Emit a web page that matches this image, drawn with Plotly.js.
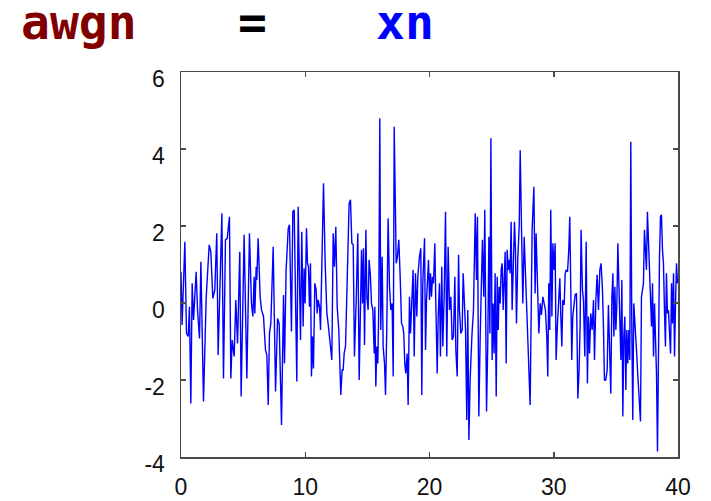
<!DOCTYPE html>
<html>
<head>
<meta charset="utf-8">
<script src="https://cdn.plot.ly/plotly-3.0.1.min.js"></script>
<style>
  html, body { margin: 0; padding: 0; background: #fff; }
  #plot { width: 711px; height: 501px; }
</style>
</head>
<body>
<div id="plot"></div>
<script>
// Noise samples xn(t), as [t, value] pairs, split by time span.
const xn_0_5 = [
  [0,0.81],[0.09,-0.57],[0.31,1.59],[0.44,-0.79],[0.58,-0.87],[0.68,-0.10],[0.79,-2.61],[0.90,0.51],
  [1.01,-0.44],[1.22,0.81],[1.33,-0.18],[1.49,-0.92],[1.60,1.07],[1.81,-2.56],[2.03,0.16],[2.27,1.51],
  [2.40,1.33],[2.56,0.12],[2.72,0.34],[2.88,1.81],[2.99,-1.35],[3.13,0.08],[3.29,2.33],[3.42,-1.96],
  [3.58,1.64],[3.72,1.68],[3.90,2.24],[4.01,-1.96],[4.12,-0.96],[4.28,-1.39],[4.41,0.08],[4.55,-1.05],
  [4.73,1.33],[4.84,-2.43]
];
const xn_5_10 = [
  [5.08,1.77],[5.30,-1.96],[5.51,1.81],[5.67,-0.01],[5.78,-0.35],[5.89,0.68],[5.94,-0.27],[6.05,0.94],
  [6.10,0.60],[6.21,1.68],[6.37,0.16],[6.48,-0.18],[6.64,-0.35],[6.80,-1.22],[6.91,-1.35],[7.02,-2.65],
  [7.12,-0.79],[7.23,-0.53],[7.42,1.46],[7.61,-2.30],[7.77,-0.40],[7.90,-0.53],[8.09,-3.17],[8.25,0.21],
  [8.33,-1.57],[8.46,0.86],[8.63,1.94],[8.73,2.03],[8.89,-0.74],[9.00,2.37],[9.11,2.42],[9.32,-2.04],
  [9.43,2.50]
];
const xn_10_15 = [
  [9.62,-0.96],[9.72,1.85],[9.83,-0.61],[9.91,0.90],[9.99,-0.01],[10.10,1.94],[10.18,1.03],[10.26,0.94],
  [10.34,-0.10],[10.42,1.03],[10.50,-1.91],[10.58,-0.87],[10.66,-1.70],[10.77,0.51],[10.88,0.34],[10.96,-0.27],
  [11.04,0.08],[11.15,-0.10],[11.23,-0.70],[11.33,1.38],[11.47,3.11],[11.60,1.07],[11.74,-0.27],[11.84,-0.53],
  [12.00,-1.05],[12.14,-1.48],[12.25,1.81],[12.35,0.94],[12.46,1.98],[12.57,-0.10],[12.70,-0.70],[12.78,-2.00],
  [12.86,-2.39],[12.97,-1.74],[13.05,-1.74],[13.13,-1.31],[13.24,-1.13],[13.37,0.51],[13.53,2.59],[13.64,2.68],
  [13.75,1.55],[13.86,1.51],[13.96,-1.39],[14.10,0.08],[14.23,1.81],[14.34,-2.00],[14.45,0.16]
];
const xn_15_20 = [
  [14.53,1.38],[14.61,-0.01],[14.69,1.42],[14.77,-1.09],[14.88,1.90],[14.96,0.16],[15.06,-0.18],[15.14,1.12],
  [15.25,0.68],[15.33,-0.01],[15.44,-0.18],[15.55,-1.31],[15.60,-0.10],[15.68,-2.17],[15.76,-1.13],[15.84,-1.57],
  [15.92,-0.01],[16.00,4.80],[16.08,-0.70],[16.19,1.20],[16.27,-1.13],[16.38,-1.57],[16.46,-2.39],[16.56,-0.70],
  [16.67,2.20],[16.78,0.42],[16.89,-0.18],[16.99,-0.01],[17.08,-1.91],[17.16,4.58],[17.21,3.45],[17.32,1.03],
  [17.42,1.20],[17.53,1.64],[17.64,0.68],[17.75,-0.53],[17.85,-0.61],[17.93,-0.79],[18.01,-1.57],[18.09,-1.83],
  [18.20,-1.31],[18.28,-2.65],[18.39,0.16],[18.47,-0.79],[18.55,-0.18],[18.68,0.86],[18.77,-1.39],[18.87,0.77],
  [18.98,-0.35],[19.06,0.68],[19.19,1.20],[19.30,1.42],[19.38,-2.39],[19.46,0.51]
];
const xn_20_25 = [
  [19.60,1.68],[19.68,-1.22],[19.76,0.08],[19.84,0.51],[19.92,1.12],[20.00,0.08],[20.08,0.77],[20.16,0.16],
  [20.24,0.68],[20.32,0.51],[20.43,1.55],[20.51,-0.01],[20.62,-1.83],[20.70,-0.35],[20.80,0.51],[20.88,-1.39],
  [20.99,0.94],[21.07,-1.13],[21.18,0.16],[21.29,2.37],[21.39,-1.39],[21.50,1.46],[21.61,-0.18],[21.72,0.16],
  [21.82,-0.96],[21.93,-0.87],[22.04,0.68],[22.12,-1.22],[22.23,-1.91],[22.34,1.25],[22.41,-0.18],[22.52,-0.79],
  [22.63,-0.70],[22.71,0.77],[22.79,-0.01],[22.90,-0.70],[23.00,-3.04],[23.08,-0.18],[23.17,-3.56],[23.27,-2.00],
  [23.41,-0.87],[23.54,-0.18],[23.68,2.33],[23.78,0.60],[23.86,2.24],[23.97,-2.95],[24.08,-0.87],[24.18,0.68],
  [24.26,1.64],[24.37,0.16],[24.45,2.42]
];
const xn_25_30 = [
  [24.59,-2.82],[24.69,-1.05],[24.78,1.72],[24.86,-0.79],[24.94,4.28],[25.04,-1.48],[25.12,-0.01],[25.20,-1.31],
  [25.28,0.77],[25.37,-2.43],[25.45,0.68],[25.53,-0.70],[25.61,0.42],[25.69,-0.01],[25.77,0.86],[25.85,1.03],
  [25.93,-0.18],[26.01,0.60],[26.09,1.33],[26.17,-1.57],[26.25,1.38],[26.33,0.86],[26.41,1.12],[26.49,0.77],
  [26.57,2.11],[26.65,-0.18],[26.73,0.86],[26.84,2.11],[26.92,1.38],[27.00,-0.53],[27.11,1.20],[27.22,1.98],
  [27.30,3.97],[27.40,1.72],[27.51,-0.01],[27.62,1.72],[27.73,0.68],[27.83,-0.18],[27.94,-1.39],[28.02,-2.09],
  [28.10,-2.65],[28.18,-0.35],[28.26,1.90],[28.40,3.02],[28.50,0.25],[28.58,1.81],[28.69,0.25],[28.80,-0.79],
  [28.91,-0.01],[29.01,-0.31],[29.12,0.16],[29.23,-0.01],[29.33,-0.18],[29.44,-0.87],[29.52,-1.91]
];
const xn_30_35 = [
  [29.60,0.51],[29.68,-0.70],[29.76,2.42],[29.85,-0.35],[29.93,1.55],[30.03,0.86],[30.11,1.55],[30.19,-1.48],
  [30.30,-0.53],[30.38,-0.01],[30.49,0.64],[30.57,-0.35],[30.65,-1.13],[30.73,0.08],[30.84,-0.05],[30.92,0.77],
  [31.00,0.86],[31.11,0.81],[31.21,1.38],[31.29,2.24],[31.37,0.16],[31.45,-1.48],[31.53,-0.35],[31.64,-0.01],
  [31.72,0.21],[31.83,0.25],[31.94,-2.48],[32.04,-1.74],[32.12,-0.61],[32.20,1.90],[32.31,0.34],[32.39,0.08],
  [32.50,-1.39],[32.61,1.59],[32.71,-2.09],[32.79,-0.35],[32.88,-1.31],[32.98,-0.27],[33.09,-0.70],[33.20,0.08],
  [33.28,-1.48],[33.39,0.08],[33.49,0.73],[33.60,-0.18],[33.71,0.86],[33.81,1.03],[33.92,0.34],[34.00,-0.61],
  [34.08,-2.00],[34.19,-2.00],[34.30,-1.74],[34.40,-0.05]
];
const xn_35_40 = [
  [34.59,-2.35],[34.68,0.16],[34.76,0.77],[34.84,-0.87],[34.92,0.42],[35.00,-0.70],[35.08,-0.01],[35.16,1.55],
  [35.24,0.51],[35.32,-0.01],[35.40,-1.48],[35.48,0.60],[35.56,-2.95],[35.64,-0.87],[35.72,-0.35],[35.80,-2.26],
  [35.88,-0.70],[35.96,-1.57],[36.04,-0.70],[36.12,-1.48],[36.20,4.19],[36.28,-0.53],[36.36,-3.04],[36.44,-0.01],
  [36.55,-0.79],[36.66,-1.22],[36.77,-1.91],[36.87,-2.61],[36.98,-3.08],[37.06,0.16],[37.14,0.42],[37.22,0.51],
  [37.30,1.90],[37.38,1.20],[37.46,0.86],[37.54,2.37],[37.62,1.55],[37.71,1.03],[37.79,-0.35],[37.87,-0.61],
  [37.95,0.51],[38.03,-1.39],[38.11,-0.01],[38.19,-0.70],[38.27,-1.83],[38.35,-3.86],[38.43,-0.61],[38.51,1.20],
  [38.59,2.24],[38.67,2.29],[38.75,1.38],[38.83,1.03],[38.91,-0.18],[38.99,-1.13],[39.07,0.77],[39.15,-0.27],
  [39.23,-0.18],[39.31,-0.70],[39.40,-1.31],[39.48,0.51],[39.56,-0.53],[39.64,0.77],[39.72,-1.39],[39.80,-0.01],
  [39.88,1.03],[39.96,0.51]
];

// Axis ticks
const xTicks = [0, 10, 20, 30, 40];
const yTicks = [-4, -2, 0, 2, 4, 6];
const yTickText = ['-4', '-2', '0', '2', '4', '6'];

// Heading pieces: "awgn = xn"
const headParts = ['awgn', '=', 'xn'];
const headColors = ['#800000', '#000000', '#0000ff'];

const samples = [].concat(xn_0_5, xn_5_10, xn_10_15, xn_15_20, xn_20_25, xn_25_30, xn_30_35, xn_35_40);

const trace = {
  x: samples.map(p => p[0]),
  y: samples.map(p => p[1]),
  type: 'scatter',
  mode: 'lines',
  line: { color: '#0000ff', width: 1.4 },
  hoverinfo: 'skip'
};

const M = { l: 181, r: 33, t: 72, b: 44 };
const W = 711, H = 501;
const pw = W - M.l - M.r, ph = H - M.t - M.b;
const headX = [79, 252, 405].map(px => (px - M.l) / pw);
const headY = 1 + (M.t - 22) / ph;

const tickFont = { family: 'Liberation Sans, Arial, sans-serif', size: 23, color: '#111' };
const axisCommon = {
  showline: true, linecolor: '#4a4a4a', linewidth: 1.5,
  mirror: 'ticks', ticks: 'inside', ticklen: 5, tickwidth: 1.5, tickcolor: '#4a4a4a',
  showgrid: false, zeroline: false, tickfont: tickFont, fixedrange: true
};

const layout = {
  width: W, height: H,
  margin: M,
  paper_bgcolor: '#ffffff', plot_bgcolor: '#ffffff',
  showlegend: false,
  xaxis: Object.assign({}, axisCommon, {
    range: [0, 40], tickmode: 'array', tickvals: xTicks, ticklabelstandoff: 9
  }),
  yaxis: Object.assign({}, axisCommon, {
    range: [-4, 6], tickmode: 'array', tickvals: yTicks, ticktext: yTickText,
    ticklabelstandoff: 10, ticklabelshift: 7
  }),
  annotations: headParts.map((t, i) => ({
    text: t, xref: 'paper', yref: 'paper', x: headX[i], y: headY,
    xanchor: 'center', yanchor: 'middle', showarrow: false,
    font: { family: 'DejaVu Sans Mono, monospace', size: 48, color: headColors[i], weight: 'bold' }
  }))
};

Plotly.newPlot('plot', [trace], layout, { staticPlot: true, displayModeBar: false });
</script>
</body>
</html>
